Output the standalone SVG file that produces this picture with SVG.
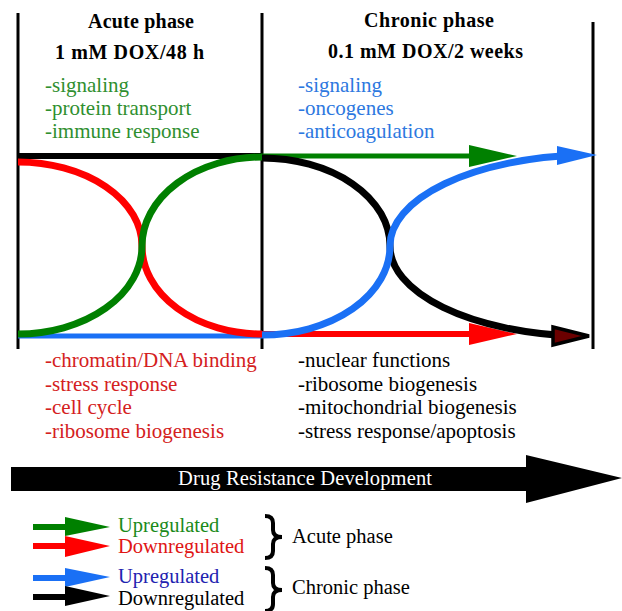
<svg xmlns="http://www.w3.org/2000/svg" width="622" height="611" viewBox="0 0 622 611" font-family="'Liberation Serif', 'Times New Roman', Tinos, 'DejaVu Serif', serif">
<style>
text{font-family:"Liberation Serif","Times New Roman",Tinos,"DejaVu Serif",serif;}
.hd{font-size:20px;font-weight:bold;fill:#000;}
.ls{font-size:21px;}
.lg{font-size:20.5px;}
.g{fill:#2f8f2f;}
.b{fill:#2d78e0;}
.r{fill:#d42020;}
.k{fill:#000;}
.frame{stroke:#000;stroke-width:3;fill:none;}
.cv{fill:none;stroke-width:7;}
</style>
<rect width="622" height="611" fill="#fff"/>
<g id="frame">
<line class="frame" x1="18" y1="13" x2="18" y2="349"/>
<line class="frame" x1="262" y1="13" x2="262" y2="349"/>
<line class="frame" x1="593" y1="22" x2="593" y2="349"/>
</g>
<g id="acute-header">
<text class="hd" x="88" y="28" textLength="106">Acute phase</text>
<text class="hd" x="55" y="59" textLength="149">1 mM DOX/48 h</text>
</g>
<g id="chronic-header">
<text class="hd" x="364" y="27" textLength="130">Chronic phase</text>
<text class="hd" x="328" y="58" textLength="195">0.1 mM DOX/2 weeks</text>
</g>
<g id="acute-up-list" class="ls g">
<text x="45" y="92">-signaling</text>
<text x="45" y="115">-protein transport</text>
<text x="45" y="138">-immune response</text>
</g>
<g id="chronic-up-list" class="ls b">
<text x="298" y="92">-signaling</text>
<text x="298" y="115">-oncogenes</text>
<text x="298" y="138">-anticoagulation</text>
</g>
<g id="acute-down-list" class="ls r">
<text x="45" y="367">-chromatin/DNA binding</text>
<text x="45" y="391">-stress response</text>
<text x="45" y="414">-cell cycle</text>
<text x="45" y="438">-ribosome biogenesis</text>
</g>
<g id="chronic-down-list" class="ls k">
<text x="298" y="367">-nuclear functions</text>
<text x="298" y="391">-ribosome biogenesis</text>
<text x="298" y="414">-mitochondrial biogenesis</text>
<text x="298" y="438">-stress response/apoptosis</text>
</g>
<g id="connectors">
<line x1="18" y1="156" x2="262" y2="156" stroke="#000" stroke-width="6"/>
<line x1="18" y1="336" x2="262" y2="336" stroke="#1a70f5" stroke-width="5"/>
<path class="cv" stroke="#ff0000" d="M18,162 A124,84 0 0 1 142,246 A120,88 0 0 0 262,334"/>
<line x1="262" y1="334" x2="472" y2="334" stroke="#ff0000" stroke-width="6"/>
<polygon points="469,323 517,334 469,345" fill="#ff0000"/>
<path class="cv" stroke="#008000" d="M18,334 A124,88 0 0 0 142,246 A120,89 0 0 1 262,157"/>
<line x1="262" y1="156" x2="472" y2="156" stroke="#008000" stroke-width="5"/>
<polygon points="469,145 517,156 469,167" fill="#008000"/>
<path class="cv" stroke="#000" d="M262,158 A128,88 0 0 1 390,246 A200,90 0 0 0 575,336"/>
<polygon points="553,327 589,336 553,345" fill="#6b0000" stroke="#000" stroke-width="3.5"/>
<path class="cv" stroke="#1a70f5" stroke-width="8" d="M262,335 A128,89 0 0 0 390,246 A204,91 0 0 1 580,155"/>
<polygon points="557,146 597,155 557,165" fill="#1a70f5"/>
</g>
<g id="drug-resistance">
<polygon points="11,467 526,467 526,455 622,478 526,503 526,491 11,491" fill="#000"/>
<text x="178" y="485" font-size="20.5" fill="#fff" textLength="254">Drug Resistance Development</text>
</g>
<g id="legend">
<line x1="33" y1="527" x2="68" y2="527" stroke="#008000" stroke-width="6"/>
<polygon points="65,517 110,527 65,536" fill="#008000"/>
<line x1="33" y1="546" x2="68" y2="546" stroke="#ff0000" stroke-width="6"/>
<polygon points="65,536 110,546 65,557" fill="#ff0000"/>
<line x1="33" y1="578" x2="68" y2="578" stroke="#1a70f5" stroke-width="6"/>
<polygon points="65,568 110,577 65,587" fill="#1a70f5"/>
<line x1="33" y1="597" x2="68" y2="597" stroke="#000" stroke-width="6"/>
<polygon points="65,586 110,596 65,606" fill="#000"/>
<text class="lg" x="118" y="532" fill="#1a8a1a">Upregulated</text>
<text class="lg" x="118" y="553" fill="#e01515">Downregulated</text>
<text class="lg" x="118" y="583" fill="#2222b0">Upregulated</text>
<text class="lg" x="118" y="605" fill="#000">Downregulated</text>
<path d="M265,516 Q273,516 273,523 L273,530 Q273,537 282,537 Q273,537 273,544 L273,551 Q273,558 265,558" fill="none" stroke="#000" stroke-width="4"/>
<path d="M265,568 Q273,568 273,575 L273,583 Q273,590 282,590 Q273,590 273,597 L273,604 Q273,611 265,611" fill="none" stroke="#000" stroke-width="4"/>
<text class="lg" x="292" y="543">Acute phase</text>
<text class="lg" x="292" y="594">Chronic phase</text>
</g>
</svg>
